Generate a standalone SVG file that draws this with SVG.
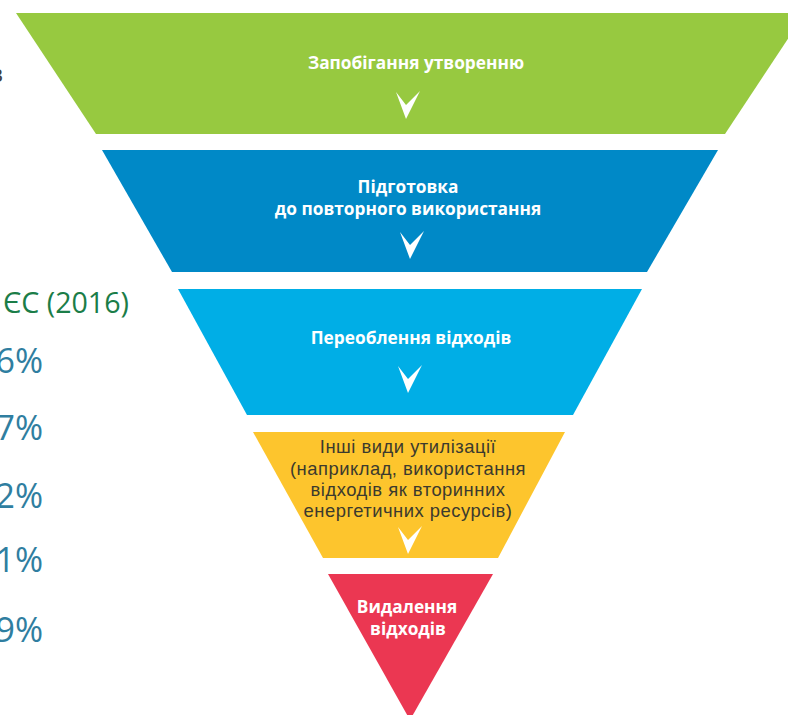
<svg xmlns="http://www.w3.org/2000/svg" width="788" height="715" viewBox="0 0 788 715">
<defs>
<style>
.lbl{font-family:"Open Sans","Liberation Sans",sans-serif;font-weight:bold;font-size:17.3px;fill:#ffffff;text-anchor:middle}
.lbl2{font-family:"Liberation Sans",Arial,sans-serif;font-size:18.4px;letter-spacing:0.5px;fill:#3b3a2e;text-anchor:middle}
.pct{font-family:"Open Sans","Liberation Sans",sans-serif;font-size:34px;fill:#2f7ea0;text-anchor:end}
.chev{fill:#ffffff}
</style>
<path id="chev" d="M -10 0 L 0 27 L 14 -1 L 0 13 Z"/>
</defs>
<rect width="788" height="715" fill="#ffffff"/>

<g id="side-text">
<text x="3" y="82" font-family="Open Sans, Liberation Sans, sans-serif" font-size="24" fill="#404040" text-anchor="end">в</text>
<text x="3" y="313" font-family="Open Sans, Liberation Sans, sans-serif" font-size="28.6" fill="#1b7d48">ЄС (2016)</text>
<text class="pct" x="43" y="373">6%</text>
<text class="pct" x="43" y="440">7%</text>
<text class="pct" x="43" y="508">2%</text>
<text class="pct" x="43" y="572">1%</text>
<text class="pct" x="43" y="642">9%</text>
</g>

<g id="level1">
<polygon points="16,13 805,13 725,134 96,134" fill="#97c940"/>
<text class="lbl" x="416" y="69">Запобігання утворенню</text>
</g>
<g id="level2">
<polygon points="102,150 718,150 647,272 172,272" fill="#0089c7"/>
<text class="lbl" x="408" y="193">Підготовка</text>
<text class="lbl" x="408" y="215">до повторного використання</text>
</g>
<g id="level3">
<polygon points="178,289 642,289 573,415 247,415" fill="#00aee6"/>
<text class="lbl" x="411" y="344">Переоблення відходів</text>
</g>
<g id="level4">
<polygon points="253,432 565,432 498,558 323,558" fill="#fdc52d"/>
<text class="lbl2" x="408" y="453">Інші види утилізації</text>
<text class="lbl2" x="408" y="475">(наприклад, використання</text>
<text class="lbl2" x="408" y="496">відходів як вторинних</text>
<text class="lbl2" x="408" y="517">енергетичних ресурсів)</text>
</g>
<g id="level5">
<polygon points="328,574 493,574 410,720" fill="#eb3752"/>
<text class="lbl" x="407" y="613">Видалення</text>
<text class="lbl" x="408" y="635">відходів</text>
</g>

<g id="connectors">
<use href="#chev" class="chev" transform="translate(406,92)"/>
<use href="#chev" class="chev" transform="translate(410,232)"/>
<use href="#chev" class="chev" transform="translate(408,366)"/>
<use href="#chev" class="chev" transform="translate(408,527)"/>
</g>
</svg>
